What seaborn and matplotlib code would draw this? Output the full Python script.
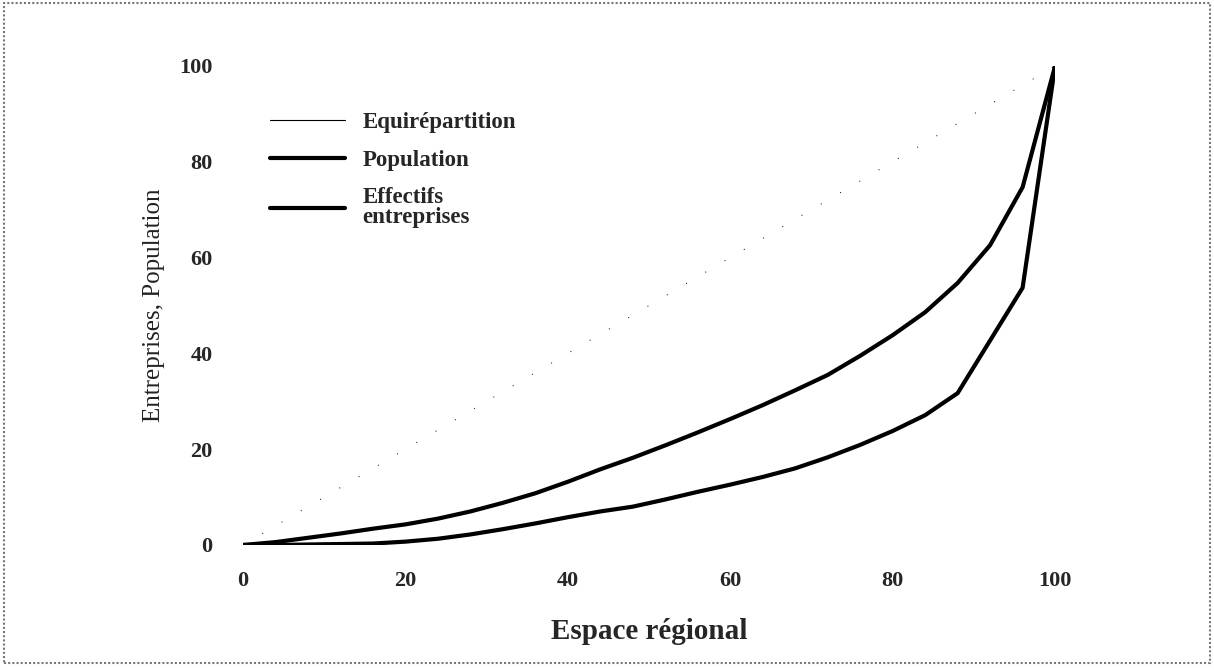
import numpy as np
import pandas as pd
import seaborn as sns
from matplotlib import pyplot as plt
from matplotlib.lines import Line2D
from matplotlib.patches import Rectangle

# espace régional (%) cumulé
espace = [0, 4, 8, 12, 16, 20, 24, 28, 32, 36, 40, 44, 48,
          52, 56, 60, 64, 68, 72, 76, 80, 84, 88, 92, 96, 100]
population = [0, 0.6, 1.5, 2.4, 3.4, 4.3, 5.5, 7.0, 8.8, 10.8, 13.2, 15.8, 18.2,
              20.8, 23.5, 26.3, 29.2, 32.3, 35.5, 39.5, 43.8, 48.6, 54.7, 62.6, 74.7, 100]
effectifs = [0, 0, 0.1, 0.2, 0.3, 0.7, 1.3, 2.2, 3.3, 4.5, 5.8, 7.0, 8.0,
             9.5, 11.1, 12.6, 14.2, 16.0, 18.3, 20.9, 23.8, 27.1, 31.7, 42.7, 53.7, 100]
equi_x = [0, 100]
equi_y = [0, 100]

labels = ["Equirépartition", "Population", "Effectifs\nentreprises"]
xticks = [0, 20, 40, 60, 80, 100]
yticks = [0, 20, 40, 60, 80, 100]

sns.set_style("white")
plt.rcParams["font.family"] = ["Liberation Serif", "DejaVu Serif"]

fig = plt.figure(figsize=(12.14, 6.70), dpi=100)
ax = fig.add_axes([0.2002, 0.1866, 0.6689, 0.7149])

df = pd.DataFrame({"x": espace, "pop": population, "eff": effectifs})

sns.lineplot(x=equi_x, y=equi_y, ax=ax, color="black", lw=0.7,
             linestyle=(0, (1, 22)))
sns.lineplot(data=df, x="x", y="pop", ax=ax, color="black", lw=3)
sns.lineplot(data=df, x="x", y="eff", ax=ax, color="black", lw=3)

ax.set_xlim(0, 100)
ax.set_ylim(0, 100)
ax.set_xticks(xticks)
ax.set_yticks(yticks)
ax.set_xticklabels([str(t) for t in xticks], fontsize=16, fontweight="bold")
ax.set_yticklabels([str(t) for t in yticks], fontsize=16, fontweight="bold")
ax.tick_params(axis="x", length=0, pad=19)
ax.tick_params(axis="y", length=0, pad=22)
for s in ax.spines.values():
    s.set_visible(False)
ax.grid(False)

ax.set_xlabel("Espace régional", fontsize=21, fontweight="bold", labelpad=19)
ax.set_ylabel("Entreprises, Population", fontsize=18, color="#222222", labelpad=10)

handles = [Line2D([], [], color="black", lw=0.8),
           Line2D([], [], color="black", lw=3),
           Line2D([], [], color="black", lw=3)]
leg = ax.legend(handles, labels, loc="upper left", bbox_to_anchor=(0.033, 0.904),
                frameon=False, borderpad=0, borderaxespad=0,
                prop={"family": "Liberation Serif", "weight": "bold", "size": 16.5},
                handlelength=3.3, handletextpad=0.75, labelspacing=0.72)
for t in leg.get_texts():
    t.set_linespacing(0.95)

fig.patches.append(Rectangle((0.003, 0.01), 0.994, 0.985, transform=fig.transFigure,
                             fill=False, edgecolor="#777777", lw=1.5, linestyle=(0, (1, 1))))

fig.savefig("out.png", dpi=100, facecolor="white")
